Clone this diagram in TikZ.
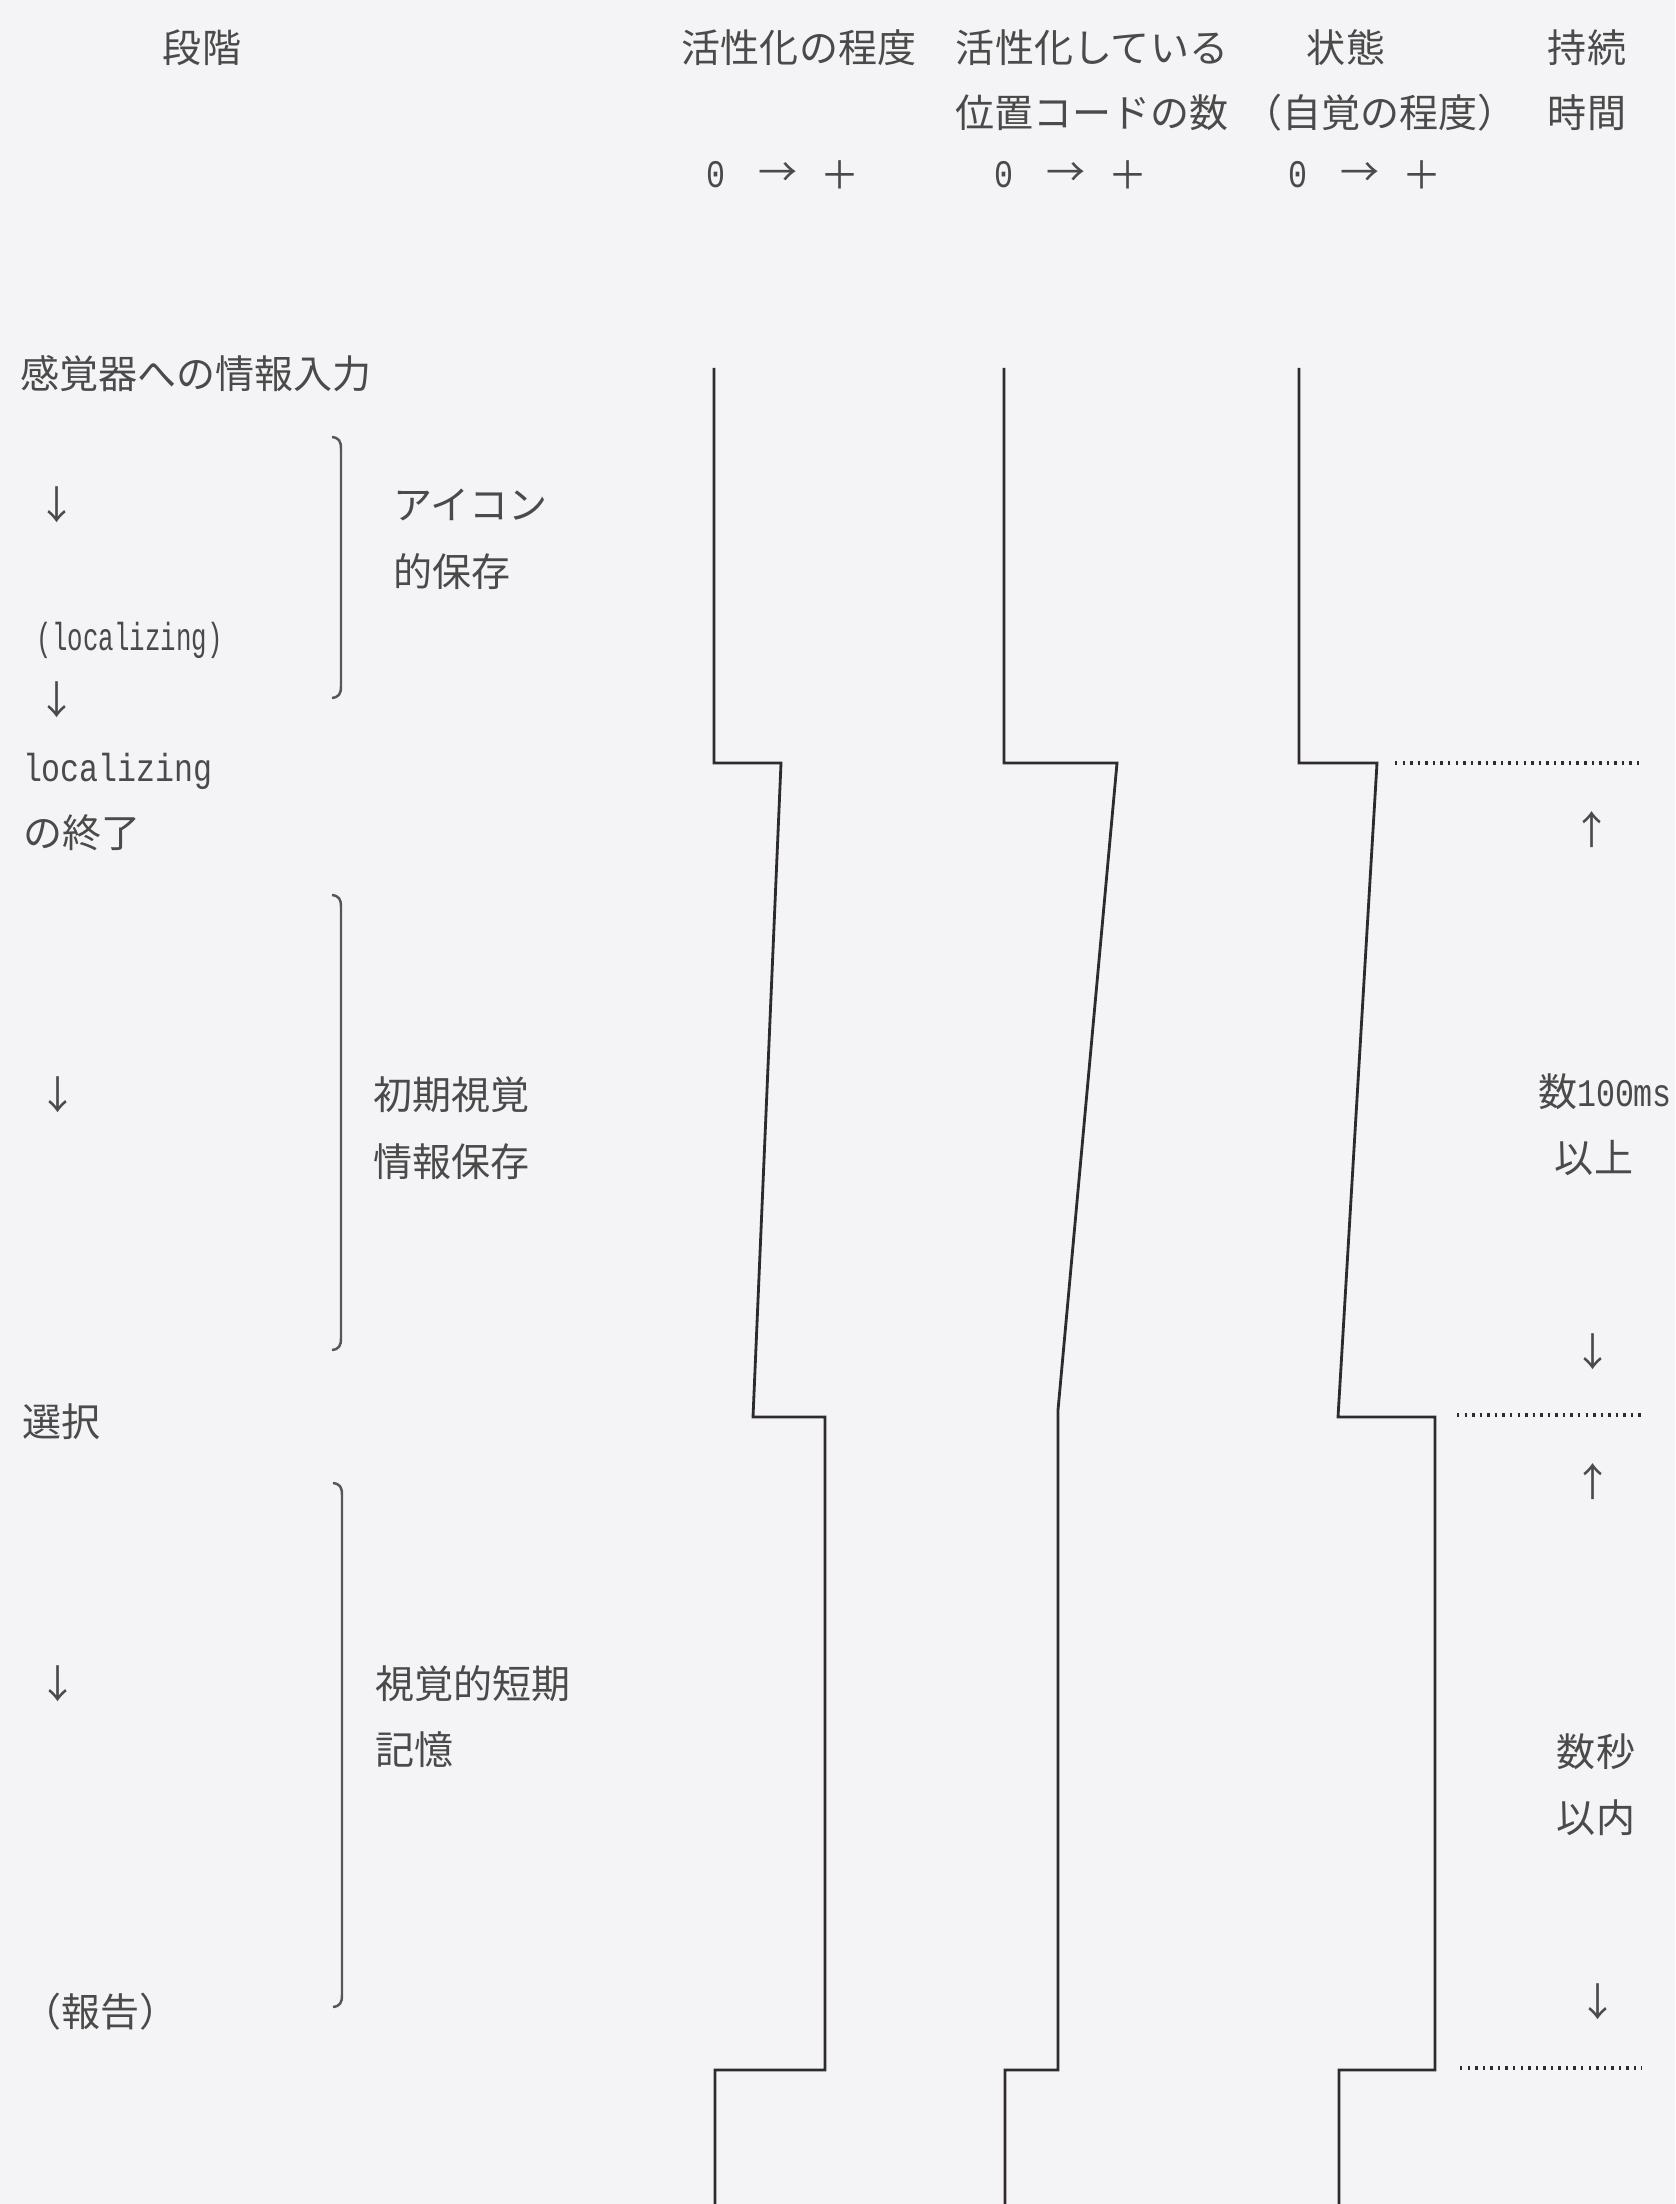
\documentclass[tikz,border=0pt]{standalone}
\usepackage{fontspec}
\setmainfont{Noto Sans CJK JP}
\newfontfamily\monof{Liberation Mono}[FakeStretch=0.81]
\newfontfamily\monon{Liberation Mono}[FakeStretch=0.66]
\definecolor{bg}{HTML}{F4F3F5}
\definecolor{txt}{HTML}{4A4A4A}
\definecolor{ln}{HTML}{2E2A2E}
\newcommand\jpfs{\fontsize{11.1pt}{13.3pt}\selectfont}
\newcommand\brkt[3]{\draw[bracketline] (#1-9,#2) .. controls (#1-2,#2+1) and (#1,#2+4) .. (#1,#2+12) -- (#1,#3-12) .. controls (#1,#3-4) and (#1-2,#3-1) .. (#1-9,#3);}
\tikzset{
  lbl/.style={inner sep=0pt, outer sep=0pt, text=txt, font=\jpfs},
  wl/.style={lbl, anchor=west},
  trace/.style={draw=ln, line width=0.8pt, line join=miter},
  bracketline/.style={draw=ln!80, line width=0.7pt},
  dotline/.style={draw=ln, line width=0.9pt, dash pattern=on 0.7pt off 1.45pt},
}
\begin{document}
\begin{tikzpicture}[x=0.01cm, y=-0.01cm]
\fill[bg] (0,0) rectangle (1675,2204);
\useasboundingbox (0,0) rectangle (1675,2204);

% headers
\node[lbl] (h1) at (202,48) {段階};
\node[lbl] (h2) at (799,48) {活性化の程度};
\node[lbl] (h3) at (1092,48) {活性化している};
\node[lbl] (h4) at (1346,48) {状態};
\node[lbl] (h5) at (1587,48) {持続};
\node[lbl] (h3b) at (1092,113) {位置コードの数};
\node[lbl] (h4b) at (1380,113) {（自覚の程度）};
\node[lbl] (h5b) at (1587,113) {時間};
\foreach \i/\x in {1/716, 2/1004, 3/1298} {
  \node[lbl] (zero\i) at (\x,175) {\monof 0};
  \node[lbl] (arr\i) at (\x+62,175) {→};
  \node[lbl] (plus\i) at (\x+124,175) {＋};
}

% left column
\node[wl] (s1) at (20,374) {感覚器への情報入力};
\node[lbl] (a1) at (57,505) {↓};
\node[wl] (s2) at (37,640) {\monon (localizing)};
\node[lbl] (a2) at (57,700) {↓};
\node[wl] (s3) at (23,771) {\monof localizing};
\node[wl] (s3b) at (23,833) {の終了};
\node[lbl] (a3) at (58,1095) {↓};
\node[wl] (s4) at (22,1422) {選択};
\node[lbl] (a4) at (58,1684) {↓};
\node[wl] (s5) at (22,2012) {（報告）};

% brackets
\brkt{341}{437}{698}
\brkt{341}{895}{1350}
\brkt{342}{1483}{2007}
\node[wl] (b1a) at (393,505) {アイコン};
\node[wl] (b1b) at (393,572) {的保存};
\node[wl] (b2a) at (373,1095) {初期視覚};
\node[wl] (b2b) at (373,1162) {情報保存};
\node[wl] (b3a) at (375,1684) {視覚的短期};
\node[wl] (b3b) at (375,1750) {記憶};

% traces
\draw[trace] (714,368) -- (714,763) -- (781,763) -- (753,1417) -- (825,1417) -- (825,2070) -- (715,2070) -- (715,2204);
\draw[trace] (1004,368) -- (1004,763) -- (1117,763) -- (1058,1410) -- (1058,2070) -- (1005,2070) -- (1005,2204);
\draw[trace] (1299,368) -- (1299,763) -- (1377,763) -- (1338,1417) -- (1435,1417) -- (1435,2070) -- (1339,2070) -- (1339,2204);

% dotted levels
\draw[dotline] (1395,763) -- (1639,763);
\draw[dotline] (1457,1415) -- (1642,1415);
\draw[dotline] (1460,2068) -- (1642,2068);

% durations
\node[lbl] (u1) at (1592,830) {↑};
\node[wl] (d1) at (1538,1092) {数{\monof 100ms}};
\node[lbl] (d1b) at (1594,1158) {以上};
\node[lbl] (v1) at (1593,1352) {↓};
\node[lbl] (u2) at (1593,1482) {↑};
\node[lbl] (d2) at (1596,1752) {数秒};
\node[lbl] (d2b) at (1596,1818) {以内};
\node[lbl] (v2) at (1598,2002) {↓};
\end{tikzpicture}
\end{document}
